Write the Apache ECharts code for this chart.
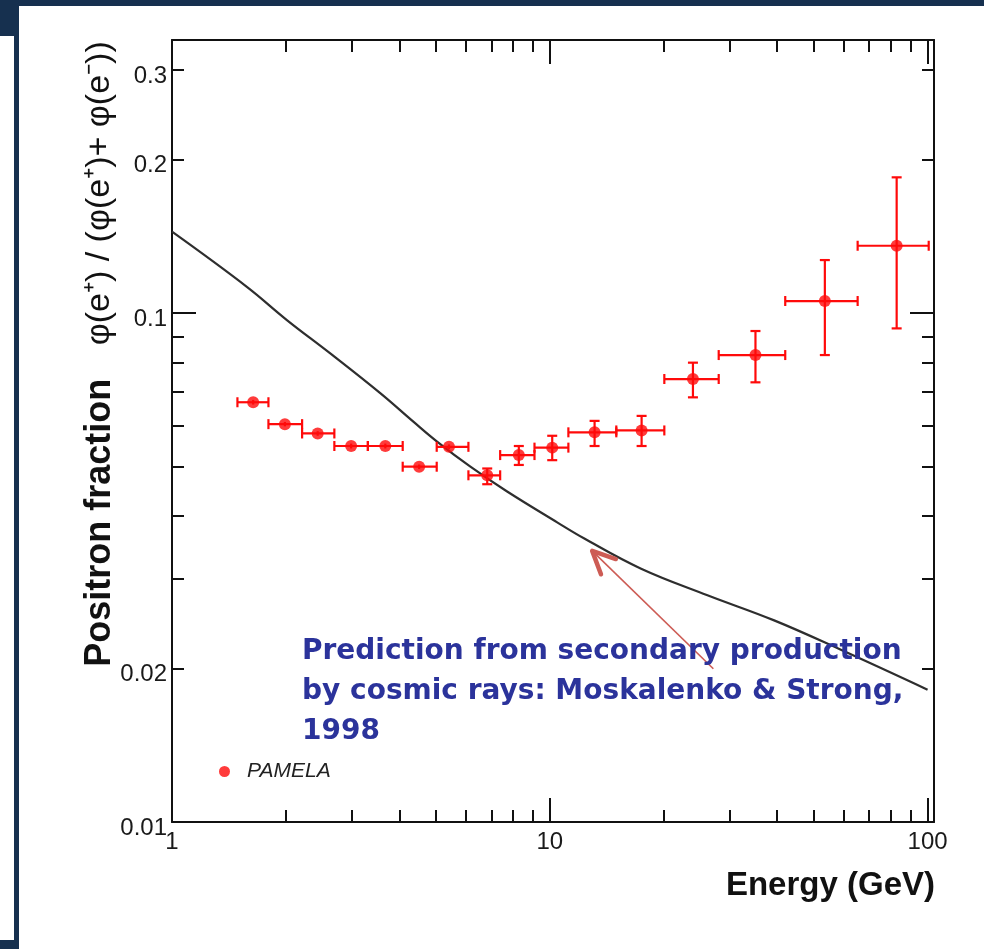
<!DOCTYPE html>
<html>
<head>
<meta charset="utf-8">
<script src="https://cdn.jsdelivr.net/npm/echarts@6/dist/echarts.min.js"></script>
<style>
html, body { margin: 0; padding: 0; background: #fff; }
#main { width: 984px; height: 949px; }
</style>
</head>
<body>
<div id="main"></div>
<script>
// PAMELA positron fraction
var energy   = [1.64, 1.99, 2.43, 2.98, 3.67, 4.51, 5.41, 6.83, 8.28, 10.15, 13.14, 17.50, 23.93, 35.03, 53.47, 82.83];
var binLow   = [1.49, 1.80, 2.21, 2.69, 3.30, 4.08, 5.02, 6.09, 7.39, 9.11, 11.2, 15.0, 20.1, 28.0, 42.0, 65.3];
var binHigh  = [1.80, 2.21, 2.69, 3.30, 4.08, 5.02, 6.09, 7.39, 9.11, 11.2, 15.0, 20.1, 28.0, 42.0, 65.3, 100.7];
var fraction = [0.0668, 0.0605, 0.0580, 0.0548, 0.0548, 0.0499, 0.0546, 0.0480, 0.0526, 0.0544, 0.0583, 0.0588, 0.0742, 0.0827, 0.1056, 0.1356];
var fracLow  = [0.0661, 0.0599, 0.0574, 0.0542, 0.0542, 0.0494, 0.0540, 0.0461, 0.0503, 0.0514, 0.0548, 0.0548, 0.0683, 0.0731, 0.0827, 0.0933];
var fracHigh = [0.0675, 0.0611, 0.0586, 0.0554, 0.0554, 0.0504, 0.0552, 0.0495, 0.0548, 0.0574, 0.0614, 0.0628, 0.0799, 0.0922, 0.1271, 0.1848];

// Moskalenko & Strong 1998 secondary prediction
var curveE = [1.0, 1.578, 2.014, 2.624, 3.558, 4.361, 5.030, 6.164, 7.711, 10.46, 12.31, 17.39, 26.14, 39.25, 58.96, 100];
var curveF = [0.1445, 0.1126, 0.0969, 0.0833, 0.0696, 0.0611, 0.0559, 0.0499, 0.0446, 0.0388, 0.0361, 0.0315, 0.0279, 0.0249, 0.0218, 0.0182];

// axis ranges and ticks
var xRange = [1, 104];
var yRange = [0.01, 0.344];
var xMajor = [1, 10, 100];
var xMinor = [2, 3, 4, 5, 6, 7, 8, 9, 20, 30, 40, 50, 60, 70, 80, 90];
var yMajor = [0.01, 0.1];
var yMinor = [0.02, 0.03, 0.04, 0.05, 0.06, 0.07, 0.08, 0.09, 0.2, 0.3];
var xLabels = [1, 10, 100];
var yLabels = [0.01, 0.02, 0.1, 0.2, 0.3];

// arrow annotation (data coords)
var arrowTip = [12.95, 0.0341];
var arrowTail = [27.1, 0.0200];

var lg = Math.log10;
var RED = '#ff0a0a';
var INK = '#111';
var FONT = 'Liberation Sans, Arial, sans-serif';

function fmt(v) {
    return String(Math.round(Math.pow(10, v) * 1000) / 1000);
}

function makeAxis(pos, range, ticks, len, withLine, labels, isY) {
    var a = {
        type: 'value',
        position: pos,
        min: lg(range[0]),
        max: lg(range[1]),
        axisLine: { show: withLine, onZero: false, lineStyle: { color: INK, width: 2 } },
        axisTick: { show: true, inside: true, length: len, customValues: ticks.map(lg), lineStyle: { color: INK, width: 2 } },
        axisLabel: { show: false },
        splitLine: { show: false }
    };
    if (labels) {
        a.axisLabel = {
            show: true,
            customValues: labels.map(lg),
            formatter: isY ? function (v) { return '{v|' + fmt(v) + '}'; } : fmt,
            color: '#1a1a1a',
            fontFamily: FONT,
            fontSize: 24,
            margin: isY ? 5 : 8,
            rich: { v: { fontFamily: FONT, fontSize: 24, color: '#1a1a1a', padding: [12, 0, 0, 0] } }
        };
    }
    return a;
}

var chart = echarts.init(document.getElementById('main'));

var option = {
    animation: false,
    backgroundColor: '#fff',
    grid: { left: 172, right: 50, top: 40, bottom: 127, outerBoundsMode: 'none' },
    xAxis: [
        makeAxis('bottom', xRange, xMajor, 24, true, xLabels, false),
        makeAxis('bottom', xRange, xMinor, 12, false, null, false),
        makeAxis('top', xRange, xMajor, 24, true, null, false),
        makeAxis('top', xRange, xMinor, 12, false, null, false)
    ],
    yAxis: [
        makeAxis('left', yRange, yMajor, 24, true, yLabels, true),
        makeAxis('left', yRange, yMinor, 12, false, null, true),
        makeAxis('right', yRange, yMajor, 24, true, null, true),
        makeAxis('right', yRange, yMinor, 12, false, null, true)
    ],
    legend: {
        data: ['PAMELA'],
        left: 214,
        top: 756,
        itemWidth: 35,
        itemHeight: 11,
        icon: 'circle',
        textStyle: { fontFamily: FONT, fontStyle: 'italic', fontSize: 21, color: '#222' }
    },
    series: [
        {
            type: 'line',
            name: 'prediction',
            xAxisIndex: 0, yAxisIndex: 0,
            data: curveE.map(function (e, i) { return [lg(e), lg(curveF[i])]; }),
            smooth: 0.4,
            showSymbol: false,
            silent: true,
            lineStyle: { color: '#2e2e2e', width: 2.2 },
            z: 2
        },
        {
            type: 'custom',
            name: 'errors',
            xAxisIndex: 0, yAxisIndex: 0,
            data: energy.map(function (e, i) {
                return [lg(e), lg(fraction[i]), lg(binLow[i]), lg(binHigh[i]), lg(fracLow[i]), lg(fracHigh[i])];
            }),
            renderItem: function (params, api) {
                var c = api.coord([api.value(0), api.value(1)]);
                var xl = api.coord([api.value(2), api.value(1)])[0];
                var xh = api.coord([api.value(3), api.value(1)])[0];
                var yl = api.coord([api.value(0), api.value(4)])[1];
                var yh = api.coord([api.value(0), api.value(5)])[1];
                var st = { stroke: RED, lineWidth: 2.2 };
                var cap = 5;
                var ch = [
                    { type: 'line', shape: { x1: xl, y1: c[1], x2: xh, y2: c[1] }, style: st },
                    { type: 'line', shape: { x1: xl, y1: c[1] - cap, x2: xl, y2: c[1] + cap }, style: st },
                    { type: 'line', shape: { x1: xh, y1: c[1] - cap, x2: xh, y2: c[1] + cap }, style: st },
                    { type: 'line', shape: { x1: c[0], y1: yl, x2: c[0], y2: yh }, style: st }
                ];
                if (yl - c[1] > 6) {
                    ch.push({ type: 'line', shape: { x1: c[0] - cap, y1: yl, x2: c[0] + cap, y2: yl }, style: st });
                }
                if (c[1] - yh > 6) {
                    ch.push({ type: 'line', shape: { x1: c[0] - cap, y1: yh, x2: c[0] + cap, y2: yh }, style: st });
                }
                return { type: 'group', children: ch };
            },
            silent: true,
            z: 3
        },
        {
            type: 'scatter',
            name: 'PAMELA',
            xAxisIndex: 0, yAxisIndex: 0,
            data: energy.map(function (e, i) { return [lg(e), lg(fraction[i])]; }),
            symbol: 'circle',
            symbolSize: 12,
            itemStyle: { color: RED },
            z: 4
        }
    ]
};

chart.setOption(option);

// annotations: slide frame, titles, note and arrow
var tip = chart.convertToPixel({ xAxisIndex: 0, yAxisIndex: 0 }, [lg(arrowTip[0]), lg(arrowTip[1])]);
var tail = chart.convertToPixel({ xAxisIndex: 0, yAxisIndex: 0 }, [lg(arrowTail[0]), lg(arrowTail[1])]);
var ang = Math.atan2(tail[1] - tip[1], tail[0] - tip[0]);
var armLen = 25, spread = 0.44;
var arm1 = [tip[0] + armLen * Math.cos(ang - spread), tip[1] + armLen * Math.sin(ang - spread)];
var arm2 = [tip[0] + armLen * Math.cos(ang + spread), tip[1] + armLen * Math.sin(ang + spread)];

var NAVY = '#16304f';
var NOTE = '#2b339b';
var ARROW = '#cd5c55';

chart.setOption({
    graphic: [
        { type: 'rect', shape: { x: 0, y: 0, width: 984, height: 6 }, style: { fill: NAVY }, silent: true },
        { type: 'rect', shape: { x: 0, y: 0, width: 18, height: 36 }, style: { fill: NAVY }, silent: true },
        { type: 'rect', shape: { x: 14, y: 0, width: 5, height: 949 }, style: { fill: NAVY }, silent: true },
        { type: 'rect', shape: { x: 0, y: 940, width: 19, height: 9 }, style: { fill: NAVY }, silent: true },
        {
            type: 'text', x: 100, y: 354, rotation: Math.PI / 2, silent: true,
            style: {
                text: '{a|Positron fraction}{g|   }{b|φ(e⁺) / (φ(e⁺)+ φ(e⁻))}',
                align: 'center', verticalAlign: 'middle',
                rich: {
                    a: { fontFamily: FONT, fontSize: 36, fontWeight: 'bold', fill: '#111' },
                    g: { fontFamily: FONT, fontSize: 40 },
                    b: { fontFamily: FONT, fontSize: 34, fill: '#111' }
                }
            }
        },
        {
            type: 'text', x: 935, y: 886, silent: true,
            style: {
                text: 'Energy (GeV)', align: 'right', verticalAlign: 'middle',
                fontFamily: FONT, fontSize: 33, fontWeight: 'bold', fill: '#111'
            }
        },
        {
            type: 'text', x: 302, y: 632, silent: true,
            style: {
                text: 'Prediction from secondary production\nby cosmic rays: Moskalenko & Strong,\n1998',
                align: 'left', verticalAlign: 'top', lineHeight: 40,
                fontFamily: 'DejaVu Sans, sans-serif', fontSize: 28, fontWeight: 'bold', fill: NOTE
            },
            z: 10
        },
        {
            type: 'line', silent: true, z: 9,
            shape: { x1: tail[0], y1: tail[1], x2: tip[0], y2: tip[1] },
            style: { stroke: ARROW, lineWidth: 1.6 }
        },
        {
            type: 'polyline', silent: true, z: 9,
            shape: { points: [arm1, tip, arm2] },
            style: { stroke: ARROW, lineWidth: 4.5, fill: null, lineJoin: 'round', lineCap: 'round' }
        }
    ]
});

window.addEventListener('resize', function () {
    chart.resize();
});
</script>
</body>
</html>
